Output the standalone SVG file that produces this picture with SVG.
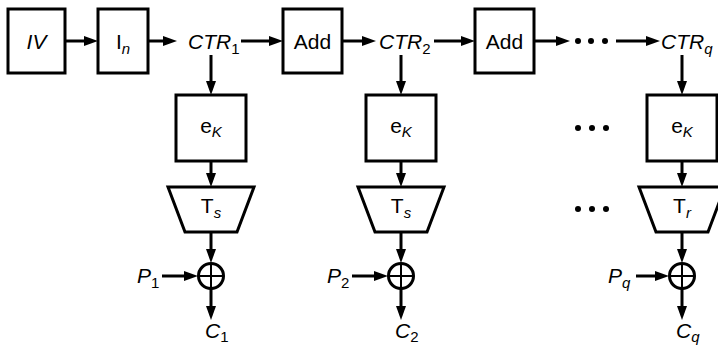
<svg xmlns="http://www.w3.org/2000/svg" width="718" height="347" viewBox="0 0 718 347">
<style>
.box{fill:#fff;stroke:#000;stroke-width:3}
.ln{fill:none;stroke:#000;stroke-width:3}
.pl{fill:none;stroke:#000;stroke-width:2}
.t{font-family:"Liberation Sans",Arial,sans-serif;font-size:21px;fill:#000}
.i{font-style:italic}
.sub{font-size:15px}
.n{font-style:normal}
.dot{fill:#000}
</style>
<defs>
<marker id="ah" markerUnits="userSpaceOnUse" markerWidth="15" markerHeight="11" refX="3" refY="5" orient="auto">
<path d="M0,0 L14,5 L0,10 z" fill="#000"/>
</marker>
</defs>
<g id="connectors">
<line class="ln" x1="65" y1="41" x2="87" y2="41" marker-end="url(#ah)"/>
<line class="ln" x1="148" y1="41" x2="166" y2="41" marker-end="url(#ah)"/>
<line class="ln" x1="241" y1="41" x2="272" y2="41" marker-end="url(#ah)"/>
<line class="ln" x1="342" y1="41" x2="365" y2="41" marker-end="url(#ah)"/>
<line class="ln" x1="434" y1="41" x2="464" y2="41" marker-end="url(#ah)"/>
<line class="ln" x1="534" y1="41" x2="559" y2="41" marker-end="url(#ah)"/>
<line class="ln" x1="616" y1="41" x2="649" y2="41" marker-end="url(#ah)"/>
<line class="ln" x1="211" y1="55" x2="211" y2="84" marker-end="url(#ah)"/>
<line class="ln" x1="211" y1="161" x2="211" y2="176" marker-end="url(#ah)"/>
<line class="ln" x1="211" y1="232" x2="211" y2="252" marker-end="url(#ah)"/>
<line class="ln" x1="211" y1="288" x2="211" y2="309" marker-end="url(#ah)"/>
<line class="ln" x1="162" y1="276" x2="187" y2="276" marker-end="url(#ah)"/>
<line class="ln" x1="401" y1="55" x2="401" y2="84" marker-end="url(#ah)"/>
<line class="ln" x1="401" y1="161" x2="401" y2="176" marker-end="url(#ah)"/>
<line class="ln" x1="401" y1="232" x2="401" y2="252" marker-end="url(#ah)"/>
<line class="ln" x1="401" y1="288" x2="401" y2="309" marker-end="url(#ah)"/>
<line class="ln" x1="352" y1="276" x2="377" y2="276" marker-end="url(#ah)"/>
<line class="ln" x1="682" y1="55" x2="682" y2="84" marker-end="url(#ah)"/>
<line class="ln" x1="682" y1="161" x2="682" y2="176" marker-end="url(#ah)"/>
<line class="ln" x1="682" y1="232" x2="682" y2="252" marker-end="url(#ah)"/>
<line class="ln" x1="682" y1="288" x2="682" y2="309" marker-end="url(#ah)"/>
<line class="ln" x1="636" y1="276" x2="658" y2="276" marker-end="url(#ah)"/>
</g>
<g id="dots">
<circle class="dot" cx="578" cy="41" r="3"/><circle class="dot" cx="591" cy="41" r="3"/><circle class="dot" cx="605" cy="41" r="3"/>
<circle class="dot" cx="578" cy="128" r="3"/><circle class="dot" cx="592" cy="128" r="3"/><circle class="dot" cx="606" cy="128" r="3"/>
<circle class="dot" cx="578" cy="209" r="3"/><circle class="dot" cx="592" cy="209" r="3"/><circle class="dot" cx="606" cy="209" r="3"/>
</g>
<g id="IV"><rect class="box" x="8" y="9" width="57" height="64"/><text class="t i" x="36.5" y="49" text-anchor="middle">IV</text></g>
<g id="In"><rect class="box" x="98" y="9" width="50" height="64"/><text class="t" x="123" y="49" text-anchor="middle">I<tspan class="sub i" dy="5">n</tspan></text></g>
<g id="CTR1"><text class="t i" x="188" y="49">CTR<tspan class="sub n" dy="5">1</tspan></text></g>
<g id="Add1"><rect class="box" x="283" y="9" width="59" height="64"/><text class="t" x="312.5" y="49" text-anchor="middle">Add</text></g>
<g id="CTR2"><text class="t i" x="379" y="49">CTR<tspan class="sub n" dy="5">2</tspan></text></g>
<g id="Add2"><rect class="box" x="475" y="9" width="59" height="64"/><text class="t" x="504.5" y="49" text-anchor="middle">Add</text></g>
<g id="CTRq"><text class="t i" x="661" y="49">CTR<tspan class="sub" dy="5">q</tspan></text></g>
<g id="eK1"><rect class="box" x="176" y="95" width="70" height="66"/><text class="t" x="211" y="133" text-anchor="middle">e<tspan class="sub i" dy="4">K</tspan></text></g>
<g id="eK2"><rect class="box" x="366" y="95" width="70" height="66"/><text class="t" x="401" y="133" text-anchor="middle">e<tspan class="sub i" dy="4">K</tspan></text></g>
<g id="eKq"><rect class="box" x="647" y="95" width="70" height="66"/><text class="t" x="682" y="133" text-anchor="middle">e<tspan class="sub i" dy="4">K</tspan></text></g>
<g id="T1"><polygon class="box" points="168,187 254,187 237,232 185,232"/><text class="t" x="211" y="213" text-anchor="middle">T<tspan class="sub i" dy="5">s</tspan></text></g>
<g id="T2"><polygon class="box" points="358,187 444,187 427,232 375,232"/><text class="t" x="401" y="213" text-anchor="middle">T<tspan class="sub i" dy="5">s</tspan></text></g>
<g id="Tq"><polygon class="box" points="639,187 725,187 708,232 656,232"/><text class="t" x="682" y="213" text-anchor="middle">T<tspan class="sub i" dy="5">r</tspan></text></g>
<g id="X1"><circle class="ln" cx="211" cy="276" r="12.5"/><path class="pl" d="M198.5,276 H223.5 M211,263.5 V288.5"/></g>
<g id="X2"><circle class="ln" cx="401" cy="276" r="12.5"/><path class="pl" d="M388.5,276 H413.5 M401,263.5 V288.5"/></g>
<g id="Xq"><circle class="ln" cx="682" cy="276" r="12.5"/><path class="pl" d="M669.5,276 H694.5 M682,263.5 V288.5"/></g>
<g id="P1"><text class="t i" x="137" y="283">P<tspan class="sub n" dy="5">1</tspan></text></g>
<g id="P2"><text class="t i" x="327" y="283">P<tspan class="sub n" dy="5">2</tspan></text></g>
<g id="Pq"><text class="t i" x="608" y="283">P<tspan class="sub" dy="5">q</tspan></text></g>
<g id="C1"><text class="t i" x="205" y="338">C<tspan class="sub n" dy="4">1</tspan></text></g>
<g id="C2"><text class="t i" x="395" y="338">C<tspan class="sub n" dy="4">2</tspan></text></g>
<g id="Cq"><text class="t i" x="676" y="338">C<tspan class="sub" dy="4">q</tspan></text></g>
</svg>
